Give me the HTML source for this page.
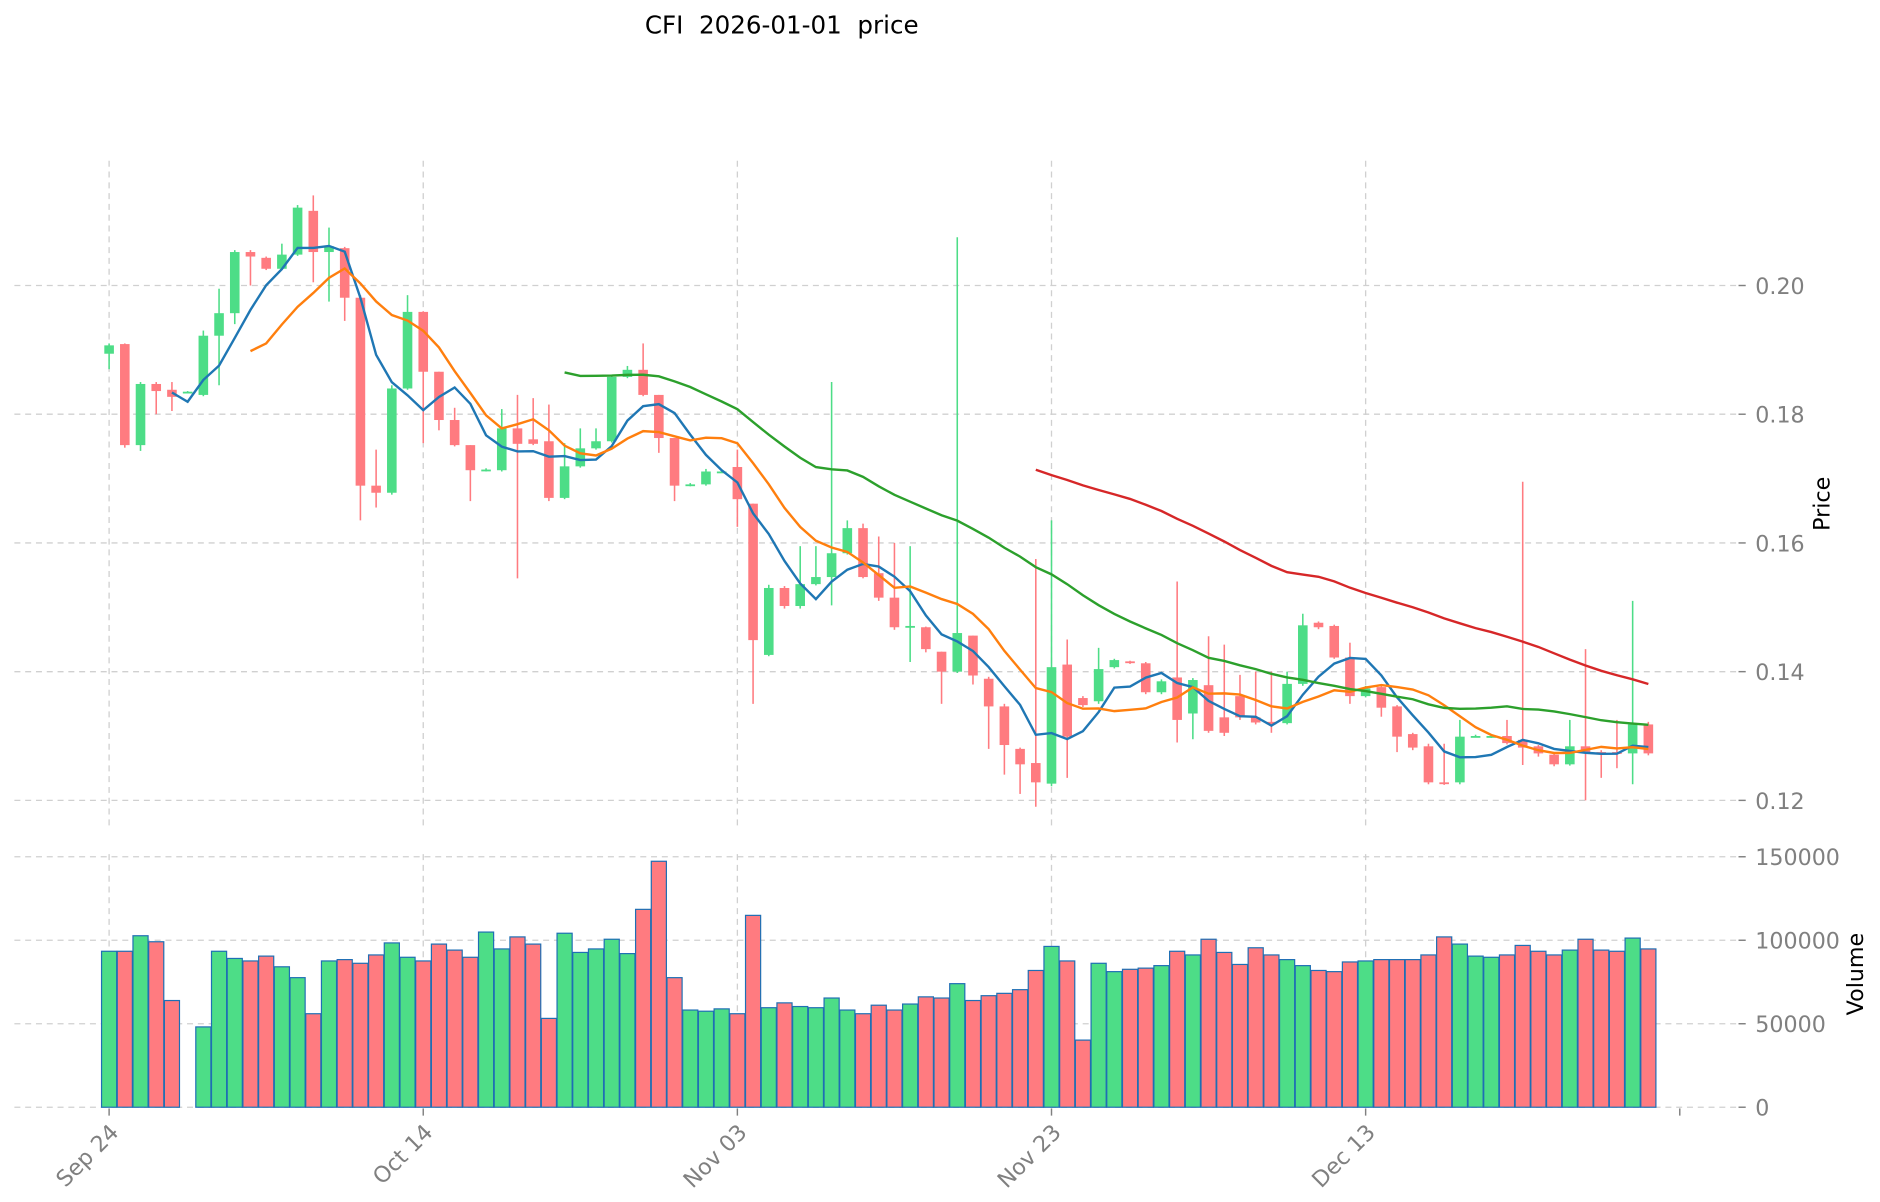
<!DOCTYPE html>
<html><head><meta charset="utf-8"><title>CFI price</title>
<style>
html,body{margin:0;padding:0;background:#fff;}
svg{display:block;font-family:"DejaVu Sans","Liberation Sans",sans-serif;}
</style></head>
<body>
<svg id="chart" width="1880" height="1202" viewBox="0 0 1568 1002" preserveAspectRatio="none" xmlns="http://www.w3.org/2000/svg">
<text x="652" y="28" font-size="20.5" text-anchor="middle" fill="#000" style="white-space:pre" xml:space="preserve">CFI  2026-01-01  price</text>
<g id="grid"></g>
<g id="vol"></g>
<g id="candles"></g>
<g id="mas"></g>
<g id="axes"></g>
<text transform="translate(1526,420) rotate(-90)" font-size="18.5" text-anchor="middle" fill="#000">Price</text>
<text transform="translate(1554,812) rotate(-90)" font-size="18.5" text-anchor="middle" fill="#000">Volume</text>
</svg>
<script>
const opens  = [0.1894,0.1909,0.1752,0.1847,0.1838,0.1835,0.1830,0.1922,0.1957,0.2052,0.2043,0.2026,0.2048,0.2116,0.2052,0.2058,0.1981,0.1689,0.1678,0.1840,0.1959,0.1866,0.1791,0.1752,0.1713,0.1713,0.1778,0.1761,0.1758,0.1670,0.1719,0.1747,0.1758,0.1858,0.1869,0.1830,0.1763,0.1690,0.1691,0.1711,0.1718,0.1661,0.1426,0.1530,0.1502,0.1536,0.1547,0.1584,0.1623,0.1553,0.1515,0.1469,0.1469,0.1431,0.1400,0.1456,0.1389,0.1346,0.1280,0.1258,0.1226,0.1411,0.1359,0.1354,0.1407,0.1416,0.1413,0.1368,0.1391,0.1335,0.1379,0.1329,0.1362,0.1329,0.1322,0.1320,0.1381,0.1476,0.1471,0.1422,0.1362,0.1376,0.1346,0.1303,0.1284,0.1228,0.1228,0.1299,0.1299,0.1300,0.1294,0.1284,0.1271,0.1256,0.1284,0.1275,0.1275,0.1273,0.1318];
const closes = [0.1907,0.1752,0.1847,0.1836,0.1827,0.1835,0.1922,0.1957,0.2052,0.2045,0.2026,0.2048,0.2121,0.2052,0.2061,0.1981,0.1689,0.1678,0.1840,0.1959,0.1866,0.1791,0.1752,0.1713,0.1714,0.1778,0.1754,0.1754,0.1670,0.1719,0.1747,0.1758,0.1858,0.1869,0.1830,0.1763,0.1689,0.1691,0.1711,0.1711,0.1668,0.1449,0.1530,0.1502,0.1536,0.1547,0.1584,0.1623,0.1547,0.1515,0.1469,0.1471,0.1435,0.1400,0.1460,0.1394,0.1346,0.1286,0.1256,0.1228,0.1407,0.1299,0.1348,0.1404,0.1418,0.1415,0.1368,0.1385,0.1325,0.1387,0.1308,0.1305,0.1329,0.1321,0.1318,0.1381,0.1472,0.1469,0.1422,0.1362,0.1374,0.1344,0.1299,0.1282,0.1228,0.1227,0.1299,0.1300,0.1300,0.1289,0.1282,0.1273,0.1256,0.1284,0.1275,0.1274,0.1274,0.1318,0.1273];
const highs  = [0.1910,0.1910,0.1850,0.1850,0.1850,0.1836,0.1930,0.1995,0.2055,0.2055,0.2045,0.2065,0.2125,0.2140,0.2090,0.2060,0.1985,0.1745,0.1845,0.1985,0.1960,0.1866,0.1810,0.1752,0.1716,0.1808,0.1830,0.1825,0.1815,0.1755,0.1778,0.1778,0.1860,0.1875,0.1910,0.1830,0.1763,0.1693,0.1715,0.1713,0.1745,0.1661,0.1535,0.1533,0.1595,0.1595,0.1850,0.1635,0.1630,0.1610,0.1600,0.1595,0.1470,0.1431,0.2075,0.1456,0.1392,0.1350,0.1282,0.1575,0.1635,0.1450,0.1362,0.1437,0.1420,0.1417,0.1415,0.1388,0.1540,0.1390,0.1455,0.1442,0.1395,0.1400,0.1400,0.1400,0.1490,0.1478,0.1473,0.1445,0.1378,0.1378,0.1348,0.1305,0.1288,0.1288,0.1325,0.1302,0.1302,0.1325,0.1695,0.1286,0.1273,0.1325,0.1435,0.1278,0.1325,0.1510,0.1322];
const lows   = [0.1870,0.1748,0.1743,0.1800,0.1805,0.1834,0.1828,0.1845,0.1940,0.2000,0.2024,0.2024,0.2046,0.2005,0.1975,0.1945,0.1635,0.1655,0.1675,0.1838,0.1755,0.1775,0.1750,0.1665,0.1711,0.1711,0.1545,0.1752,0.1665,0.1668,0.1717,0.1745,0.1756,0.1856,0.1828,0.1740,0.1665,0.1688,0.1689,0.1709,0.1625,0.1350,0.1424,0.1498,0.1498,0.1534,0.1503,0.1582,0.1545,0.1510,0.1465,0.1415,0.1430,0.1350,0.1398,0.1380,0.1280,0.1240,0.1210,0.1190,0.1222,0.1235,0.1345,0.1350,0.1405,0.1412,0.1365,0.1365,0.1290,0.1295,0.1305,0.1300,0.1325,0.1318,0.1305,0.1318,0.1378,0.1466,0.1420,0.1350,0.1360,0.1330,0.1275,0.1278,0.1225,0.1224,0.1225,0.1298,0.1297,0.1287,0.1255,0.1268,0.1253,0.1254,0.1200,0.1235,0.1250,0.1225,0.1270];
const volumes = [93400,93400,102700,99100,63900,0,48100,93400,89100,87600,90500,84100,77600,56000,87600,88400,86200,91200,98400,89800,87600,97700,94100,89800,104900,94800,102000,97700,53200,104200,92700,94800,100600,92000,118500,147300,77600,58200,57500,58900,56000,114900,59600,62500,60300,59600,65400,58200,56000,61100,58200,61800,66100,65400,74000,63900,66800,68200,70400,81900,96300,87600,40200,86200,81200,82600,83300,84800,93400,91200,100600,92700,85500,95500,91200,88400,84800,81900,81200,87000,87600,88400,88400,88400,91200,102000,97700,90500,89800,91200,96900,93400,91200,94100,100600,94100,93400,101300,94800];
const dateLabels = ["Sep 24","Oct 14","Nov 03","Nov 23","Dec 13"];
const dateIdx = [0,20,40,60,80];
const priceTicks = [0.12,0.14,0.16,0.18,0.20];
const volTicks = [0,50000,100000,150000];
const maPeriods = [5,10,30,60];
const maColors = ["#1f77b4","#ff7f0e","#2ca02c","#d62728"];

const NS="http://www.w3.org/2000/svg";
const xOf = i => 91 + 13.1*i;
const yP = p => 238 + (0.20-p)/0.02*107.3;
const yV = v => 923 - v/50000*69.6;
function mk(tag, attrs, parent){const e=document.createElementNS(NS,tag);for(const k in attrs)e.setAttribute(k,attrs[k]);parent.appendChild(e);return e;}
const grid=document.getElementById('grid'), vol=document.getElementById('vol'), cg=document.getElementById('candles'), mg=document.getElementById('mas'), ax=document.getElementById('axes');
const gstyle={stroke:"#d0d0d0","stroke-width":1.1,"stroke-dasharray":"5,4",fill:"none"};
priceTicks.forEach(t=>{const y=yP(t);
 const l=mk('line',Object.assign({x1:12,x2:1450,y1:y,y2:y},gstyle),grid);
 
 
 mk('line',{x1:1450,x2:1456,y1:y,y2:y,stroke:"#808080","stroke-width":1.2},ax);
 const tx=mk('text',{x:1464,y:y+7,"font-size":18.5,fill:"#808080"},ax);tx.textContent=t.toFixed(2);
 
 
});
volTicks.forEach(t=>{const y=yV(t);
 const l=mk('line',Object.assign({x1:12,x2:1450,y1:y,y2:y},gstyle),grid);
 
 
 mk('line',{x1:1450,x2:1456,y1:y,y2:y,stroke:"#808080","stroke-width":1.2},ax);
 const tx=mk('text',{x:1464,y:y+7,"font-size":18.5,fill:"#808080"},ax);tx.textContent=String(t);
 
 
});
dateIdx.concat([100]).forEach((d,k)=>{const x=xOf(d);
 if(d<100){mk('line',Object.assign({x1:x,x2:x,y1:134,y2:690},gstyle),grid);
 mk('line',Object.assign({x1:x,x2:x,y1:712,y2:923},gstyle),grid);}
 mk('line',{x1:x,x2:x,y1:924,y2:930,stroke:"#808080","stroke-width":1.2},ax);
 if(k<dateLabels.length){const tx=mk('text',{transform:`translate(${x+9},${945}) rotate(-45)`,"font-size":18.5,fill:"#808080","text-anchor":"end"},ax);
 tx.textContent=dateLabels[k];
 
 }
});
const UP="#4ddd87", DN="#ff7b80";
volumes.forEach((v,i)=>{if(v<=0)return;const up=closes[i]>=opens[i];
 const r=mk('rect',{x:xOf(i)-6.3,y:yV(v),width:12.6,height:yV(0)-yV(v),fill:up?UP:DN,stroke:"#1f6fb4","stroke-width":1},vol);
 
 
});
opens.forEach((o,i)=>{const c=closes[i],up=c>=o,col=up?UP:DN,x=xOf(i);
 const w=mk('line',{x1:x,x2:x,y1:yP(highs[i]),y2:yP(lows[i]),stroke:col,"stroke-width":1.3},cg);
 
 
 const t=yP(Math.max(o,c)),b=yP(Math.min(o,c));
 const r=mk('rect',{x:x-4,y:t,width:8,height:Math.max(b-t,1.5),fill:col},cg);
 
 
});
maPeriods.forEach((p,k)=>{let pts=[];
 for(let i=p-1;i<closes.length;i++){let s=0;for(let j=i-p+1;j<=i;j++)s+=closes[j];pts.push(xOf(i).toFixed(1)+","+yP(s/p).toFixed(1));}
 const pl=mk('polyline',{points:pts.join(" "),fill:"none",stroke:maColors[k],"stroke-width":2},mg);
 
 
});
</script>
</body></html>
